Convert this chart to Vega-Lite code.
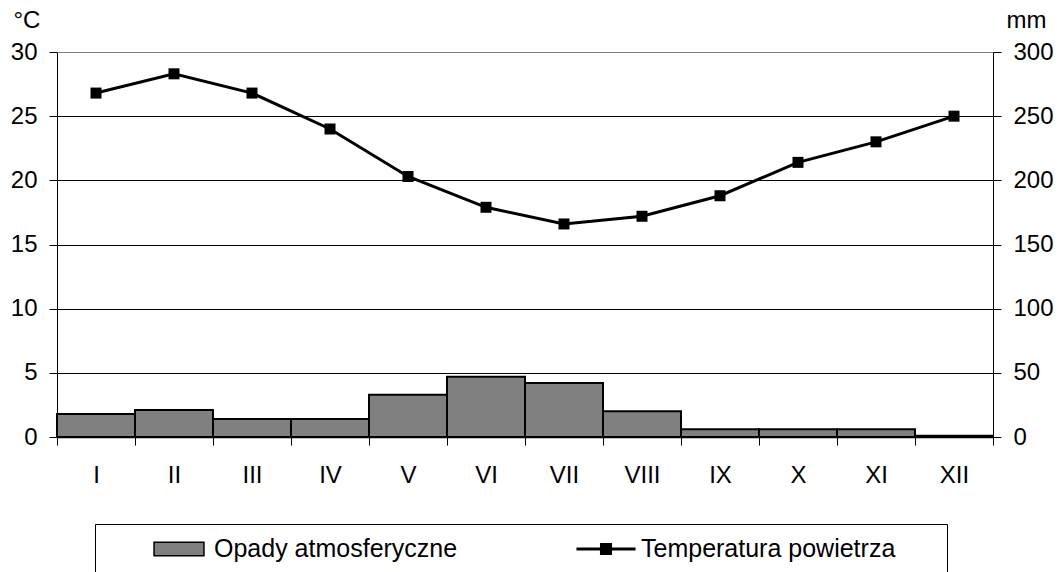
{
  "$schema": "https://vega.github.io/schema/vega-lite/v6.json",
  "width": 936,
  "height": 385,
  "autosize": {"type": "none"},
  "padding": {"left": 57, "top": 52, "right": 66, "bottom": 135},
  "background": "white",
  "config": {
    "view": {"stroke": null},
    "font": "Liberation Sans",
    "axis": {
      "labelFont": "Liberation Sans",
      "titleFont": "Liberation Sans",
      "labelFontSize": 24,
      "labelColor": "black",
      "domainColor": "black",
      "tickColor": "black",
      "titleColor": "black",
      "titleFontWeight": "normal",
      "titleFontSize": 24
    }
  },
  "data": {
    "values": [
      {"month": "I", "temp": 26.8, "opady": 18},
      {"month": "II", "temp": 28.3, "opady": 21},
      {"month": "III", "temp": 26.8, "opady": 14},
      {"month": "IV", "temp": 24.0, "opady": 14},
      {"month": "V", "temp": 20.3, "opady": 33},
      {"month": "VI", "temp": 17.9, "opady": 47},
      {"month": "VII", "temp": 16.6, "opady": 42},
      {"month": "VIII", "temp": 17.2, "opady": 20},
      {"month": "IX", "temp": 18.8, "opady": 6},
      {"month": "X", "temp": 21.4, "opady": 6},
      {"month": "XI", "temp": 23.0, "opady": 6},
      {"month": "XII", "temp": 25.0, "opady": 1}
    ]
  },
  "encoding": {
    "x": {
      "field": "month",
      "type": "ordinal",
      "sort": null,
      "scale": {"paddingInner": 0, "paddingOuter": 0},
      "axis": {
        "title": null,
        "labelAngle": 0,
        "tickBand": "extent",
        "tickSize": 8,
        "labelPadding": 18,
        "grid": false,
        "domainWidth": 1.5
      }
    }
  },
  "layer": [
    {
      "mark": {"type": "bar", "stroke": "black", "strokeWidth": 2},
      "encoding": {
        "y": {
          "field": "opady",
          "type": "quantitative",
          "scale": {"domain": [0, 300], "nice": false},
          "axis": {
            "orient": "right",
            "values": [0, 50, 100, 150, 200, 250, 300],
            "grid": false,
            "tickSize": 8,
            "labelPadding": 12,
            "title": "mm",
            "titleAngle": 0,
            "titleAlign": "left",
            "titleBaseline": "alphabetic",
            "titleX": 13,
            "titleY": -25
          }
        },
        "color": {
          "datum": "Opady atmosferyczne",
          "scale": {
            "domain": ["Opady atmosferyczne", "Temperatura powietrza"],
            "range": ["#808080", "#000000"]
          },
          "legend": {
            "title": "\u00a0",
            "titleOrient": "right",
            "titlePadding": 40,
            "titleFontSize": 10,
            "orient": "none",
            "legendX": 38,
            "legendY": 472,
            "direction": "horizontal",
            "columns": 2,
            "padding": 12,
            "strokeColor": "black",
            "fillColor": "white",
            "symbolSize": 576,
            "symbolStrokeWidth": 1.5,
            "symbolStrokeColor": "black",
            "symbolOpacity": 1,
            "symbolType": {"expr": "datum.value == 'Opady atmosferyczne' ? 'M-2.08,-0.56L2.08,-0.56L2.08,0.56L-2.08,0.56Z' : 'M-2.4,-0.06L-0.44,-0.06L-0.44,-0.44L0.44,-0.44L0.44,-0.06L2.4,-0.06L2.4,0.06L0.44,0.06L0.44,0.44L-0.44,0.44L-0.44,0.06L-2.4,0.06Z'"},
            "symbolOffset": 59,
            "labelOffset": 22,
            "columnPadding": 76,
            "labelFont": "Liberation Sans",
            "labelFontSize": 25,
            "labelColor": "black",
            "labelLimit": 0
          }
        }
      }
    },
    {
      "mark": {
        "type": "line",
        "color": "black",
        "strokeWidth": 3,
        "point": {"shape": "square", "size": 121, "filled": true, "opacity": 1, "color": "black"}
      },
      "encoding": {
        "y": {
          "field": "temp",
          "type": "quantitative",
          "scale": {"domain": [0, 30], "nice": false},
          "axis": {
            "orient": "left",
            "values": [0, 5, 10, 15, 20, 25, 30],
            "grid": true,
            "gridColor": {"condition": {"test": "datum.value === 30", "value": "#808080"}, "value": "black"},
            "gridWidth": 1,
            "tickSize": 8,
            "labelPadding": 12,
            "title": "°C",
            "titleAngle": 0,
            "titleAlign": "left",
            "titleBaseline": "alphabetic",
            "titleX": -44,
            "titleY": -25
          }
        }
      }
    }
  ],
  "resolve": {"scale": {"y": "independent"}}
}
